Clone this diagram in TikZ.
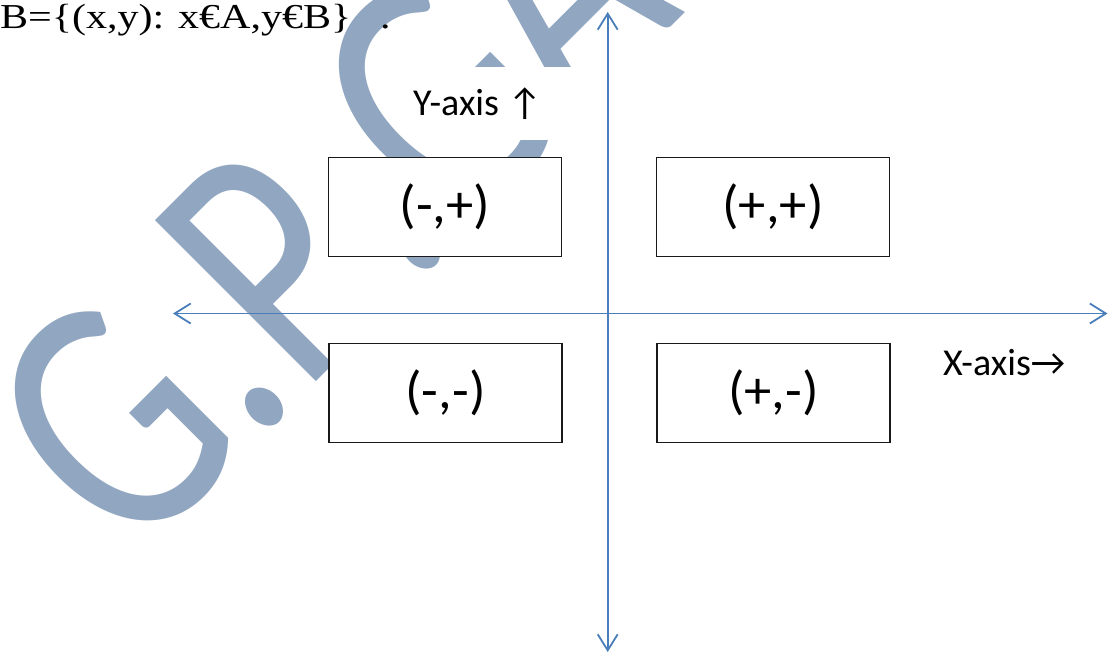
\documentclass[tikz,border=0pt]{standalone}
\usepackage{fontspec}
\usepackage{graphicx}
\setmainfont{Liberation Serif}
\newfontfamily\calfont{Carlito}
\usetikzlibrary{arrows.meta}
\definecolor{wmark}{RGB}{145,166,192}
\definecolor{axisblue}{RGB}{74,126,187}
\begin{document}
\begin{tikzpicture}[x=1pt,y=-1pt,
  quad/.style={draw=black!90, line width=1.3pt, fill=white, minimum width=233pt,
    minimum height=99pt, inner sep=0pt, font=\calfont\fontsize{53}{60}\selectfont},
  axisline/.style={draw=axisblue, line width=1.8pt,
    {Straight Barb[length=16pt,width=20pt]}-{Straight Barb[length=16pt,width=20pt]}},
  lbl/.style={inner sep=0pt, anchor=base west, font=\calfont\fontsize{38}{44}\selectfont},
  wm/.style={anchor=base west, rotate=45, inner sep=0pt, text=wmark,
    font=\calfont\fontsize{273}{300}\selectfont}]
\useasboundingbox (0,0) rectangle (1108,653);
% watermark
\node[wm] (wmark) at (132,566) {\scalebox{1}[1.3]{G.P\hspace{12pt}.\hspace{-5pt}G\hspace{-5pt}A}};
% white label background
\fill[white] (410,67) rectangle (607,140);
% top text
\node[inner sep=0pt, anchor=base west, font=\fontsize{35}{40}\selectfont] (settext) at (0,28)
  {\scalebox{1.2}[1]{B=\{(x,y): x€A,y€B\}\hspace{24pt}.}};
% quadrant boxes
\node[quad] (q2) at (445,207) {\raisebox{2pt}{\scalebox{1.03}[1]{(-,+)}}};
\node[quad] (q1) at (773,207) {\raisebox{2pt}{\scalebox{1.03}[1]{(+,+)}}};
\node[quad] (q3) at (445.5,393) {\raisebox{2pt}{\scalebox{1.03}[1]{(-,-)}}};
\node[quad] (q4) at (773.5,393) {\raisebox{2pt}{\scalebox{1.03}[1]{(+,-)}}};
% axes
\coordinate (xl) at (173,313.5);
\coordinate (xr) at (1107.5,313.5);
\coordinate (yt) at (607.7,12);
\coordinate (yb) at (607.7,652);
\draw[axisline] (xl) -- (xr);
\draw[axisline] (yb) -- (yt);
% labels
\node[lbl] (ylab) at (413,115) {Y-axis ↑};
\node[lbl] (xlab) at (943,375) {X-axis→};
\end{tikzpicture}
\end{document}
